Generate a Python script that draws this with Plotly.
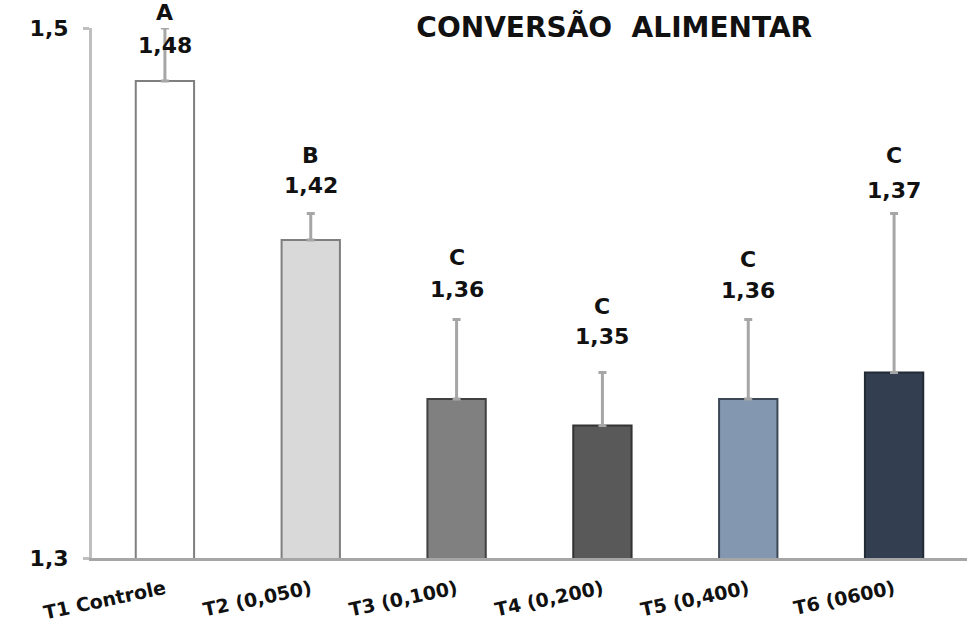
import plotly.graph_objects as go

categories = ["T1 Controle", "T2 (0,050)", "T3 (0,100)", "T4 (0,200)", "T5 (0,400)", "T6 (0600)"]
values = [1.48, 1.42, 1.36, 1.35, 1.36, 1.37]
errors = [0.02, 0.01, 0.03, 0.02, 0.03, 0.06]
letters = ["A", "B", "C", "C", "C", "C"]
value_labels = ["1,48", "1,42", "1,36", "1,35", "1,36", "1,37"]

fill_colors = ["#ffffff", "#d9d9d9", "#808080", "#595959", "#8497b0", "#333f50"]
line_colors = ["#7f7f7f", "#7f7f7f", "#404040", "#333333", "#3b4656", "#222a35"]
num_shift = [-17, 28, 30, 36, 29, 23]
let_shift = [16, 58, 62, 66, 60, 58]

FONT = "DejaVu Sans"

fig = go.Figure()
fig.add_trace(go.Bar(
    x=categories, y=values,
    marker=dict(color=fill_colors, line=dict(color=line_colors, width=2)),
    width=0.4,
    error_y=dict(type="data", array=errors, arrayminus=[0]*len(errors),
                 symmetric=False, color="#a6a6a6", thickness=3, width=4),
    showlegend=False,
))

for c, v, e, lt, vl, ns, ls in zip(categories, values, errors, letters, value_labels, num_shift, let_shift):
    fig.add_annotation(x=c, y=v + e, text=vl, showarrow=False, yshift=ns,
                       font=dict(family=FONT, size=22, color="#111111", weight="bold"))
    fig.add_annotation(x=c, y=v + e, text=lt, showarrow=False, yshift=ls,
                       font=dict(family=FONT, size=22, color="#111111", weight="bold"))

fig.update_layout(
    width=975, height=630,
    margin=dict(l=92, r=8, t=28, b=72, autoexpand=False),
    plot_bgcolor="white", paper_bgcolor="white",
    separators=",.",
    title=dict(text="CONVERSÃO  ALIMENTAR", x=0.63, xref="container", xanchor="center",
               y=0.957, yref="container", yanchor="middle",
               font=dict(family=FONT, size=28, color="#111111", weight="bold")),
)
fig.update_yaxes(range=[1.3, 1.5], tickvals=[1.3, 1.5], tickformat=".1f",
                 automargin=False,
                 showgrid=False, zeroline=False,
                 showline=True, linecolor="#bfbfbf", linewidth=3,
                 ticks="outside", ticklen=6, tickcolor="#bfbfbf", tickwidth=3,
                 ticklabelstandoff=10,
                 tickfont=dict(family=FONT, size=22, color="#111111", weight="bold"))
fig.update_xaxes(showgrid=False, showline=True, linecolor="#a6a6a6", linewidth=3,
                 automargin=False,
                 ticks="", tickangle=-12, ticklabelstandoff=10,
                 tickfont=dict(family=FONT, size=19, color="#111111", weight="bold"))

fig.write_html("out.html",
               config={"displayModeBar": False},
               post_script="document.body.style.margin='0';document.body.style.overflow='hidden';")
